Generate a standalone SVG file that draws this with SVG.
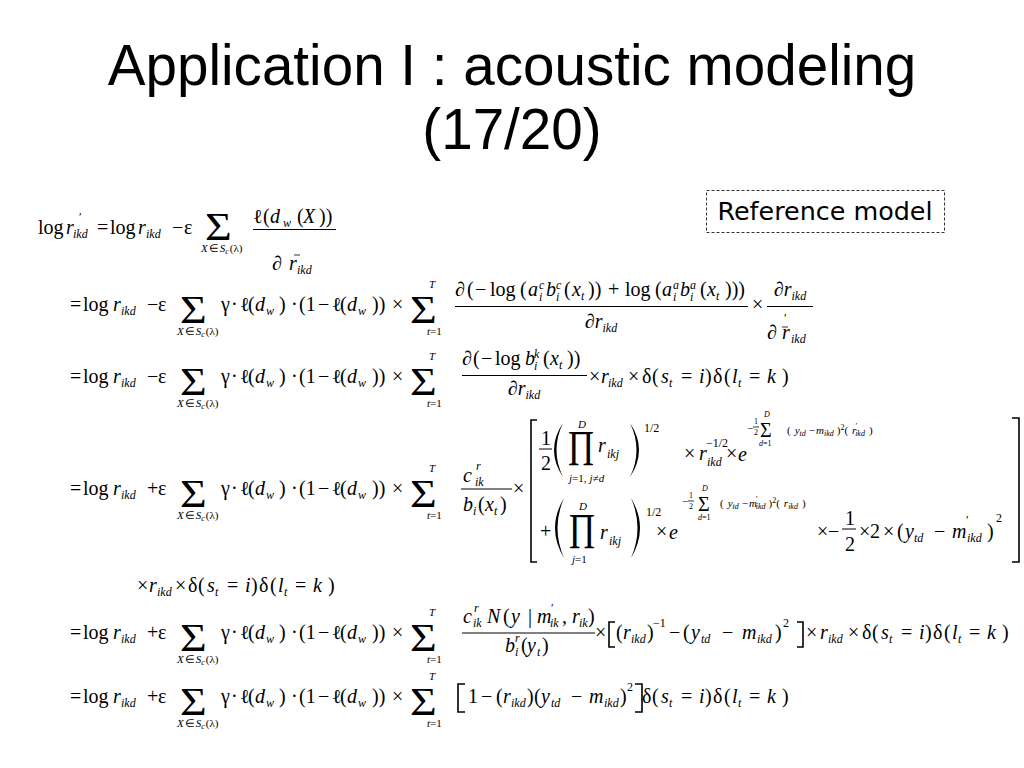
<svg xmlns="http://www.w3.org/2000/svg" width="1024" height="768" viewBox="0 0 1024 768">
<style>
text{font-family:"Liberation Serif","Times New Roman",serif;font-size:20px;fill:#000}
.i{font-style:italic}
.s{font-size:12px}
.l{font-size:11px}
.e{font-size:11px}
.t{font-size:8px}
.g{font-size:41px}
.p{font-size:50px}
.ttl{font-family:"Liberation Sans",Arial,sans-serif;font-size:56.6px}
.ref{font-family:"DejaVu Sans",Verdana,sans-serif;font-size:25.4px}
.fl{stroke:#000;stroke-width:1}
.hl{stroke:#000;stroke-width:0.8}
.br{fill:none;stroke:#000;stroke-width:1.6}
.pf{fill:#000;stroke:none}
</style>
<rect width="1024" height="768" fill="#fff"/>
<g id="title">
<text class="ttl" x="512" y="85" text-anchor="middle">Application I : acoustic modeling</text>
<text class="ttl" x="512" y="149" text-anchor="middle">(17/20)</text>
</g>
<g id="reference-model">
<rect x="706.5" y="190.5" width="238" height="42" fill="none" stroke="#333" stroke-width="1" stroke-dasharray="3,2"/>
<text class="ref" x="825" y="220" text-anchor="middle">Reference model</text>
</g>

<g id="eq1" transform="translate(0,234)">
<text><tspan x="38" y="0">log</tspan><tspan class="i" x="66" y="0">r</tspan><tspan class="s" x="79" y="-13">′</tspan><tspan class="i s" x="73" y="4">ikd</tspan><tspan x="97" y="0">=</tspan><tspan x="110" y="0">log</tspan><tspan class="i" x="138" y="0">r</tspan><tspan class="i s" x="146" y="4">ikd</tspan><tspan x="172" y="0">−</tspan><tspan x="184" y="0">ε</tspan></text>
<text class="g" transform="translate(205,6) scale(1.12,1)">Σ</text>
<text class="l" x="201" y="18"><tspan class="i">X</tspan><tspan dx="1">∈</tspan><tspan class="i" dx="1">S</tspan><tspan class="i t" dy="2">c</tspan><tspan dy="-2" dx="1">(λ)</tspan></text>
<text><tspan x="253" y="-11">ℓ</tspan><tspan x="263" y="-11">(</tspan><tspan class="i" x="270" y="-11">d</tspan><tspan class="i s" x="283" y="-7">w</tspan><tspan x="297" y="-11">(</tspan><tspan class="i" x="303" y="-11">X</tspan><tspan x="319" y="-11">))</tspan></text>
<line class="fl" x1="253" y1="-4.5" x2="336" y2="-4.5"/>
<text><tspan x="272" y="36">∂</tspan><tspan class="i" x="289" y="36">r</tspan><tspan class="i s" x="297" y="40">ikd</tspan></text>
<line class="hl" x1="294" y1="21" x2="300" y2="21"/>
</g>

<g id="eq2" transform="translate(0,311)">
<text><tspan x="70" y="0">=</tspan><tspan x="83" y="0">log</tspan><tspan class="i" x="113" y="0">r</tspan><tspan class="i s" x="121" y="4">ikd</tspan><tspan x="147" y="0">−</tspan><tspan x="158" y="0">ε</tspan><tspan x="221" y="0">γ</tspan><tspan x="231" y="0">·</tspan><tspan x="240" y="0">ℓ</tspan><tspan x="248" y="0">(</tspan><tspan class="i" x="255" y="0">d</tspan><tspan class="i s" x="266" y="4">w</tspan><tspan x="279" y="0">)</tspan><tspan x="291" y="0">·</tspan><tspan x="299" y="0">(1</tspan><tspan x="318" y="0">−</tspan><tspan x="332" y="0">ℓ</tspan><tspan x="340" y="0">(</tspan><tspan class="i" x="347" y="0">d</tspan><tspan class="i s" x="358" y="4">w</tspan><tspan x="372" y="0">))</tspan><tspan x="392" y="0">×</tspan></text>
<text class="g" transform="translate(180,12) scale(1.12,1)">Σ</text>
<text class="l" x="177" y="24"><tspan class="i">X</tspan><tspan dx="1">∈</tspan><tspan class="i" dx="1">S</tspan><tspan class="i t" dy="2">c</tspan><tspan dy="-2" dx="1">(λ)</tspan></text>
<text class="g" transform="translate(410,12) scale(1.12,1)">Σ</text>
<text class="i l" x="429" y="-23">T</text>
<text class="l" x="427" y="24"><tspan class="i">t</tspan>=1</text>
<text><tspan x="455" y="-15">∂</tspan><tspan x="467" y="-15">(</tspan><tspan x="475" y="-15">−</tspan><tspan x="490" y="-15">log</tspan><tspan x="520" y="-15">(</tspan><tspan class="i" x="528" y="-15">a</tspan><tspan class="i s" x="539" y="-22">c</tspan><tspan class="i s" x="539" y="-10">i</tspan><tspan class="i" x="546" y="-15">b</tspan><tspan class="i s" x="556" y="-22">c</tspan><tspan class="i s" x="556" y="-10">i</tspan><tspan x="564" y="-15">(</tspan><tspan class="i" x="572" y="-15">x</tspan><tspan class="i s" x="581" y="-11">t</tspan><tspan x="588" y="-15">))</tspan><tspan x="608" y="-15">+</tspan><tspan x="625" y="-15">log</tspan><tspan x="655" y="-15">(</tspan><tspan class="i" x="662" y="-15">a</tspan><tspan class="i s" x="673" y="-22">a</tspan><tspan class="i s" x="673" y="-10">i</tspan><tspan class="i" x="680" y="-15">b</tspan><tspan class="i s" x="690" y="-22">a</tspan><tspan class="i s" x="690" y="-10">i</tspan><tspan x="700" y="-15">(</tspan><tspan class="i" x="707" y="-15">x</tspan><tspan class="i s" x="716" y="-11">t</tspan><tspan x="725" y="-15">)))</tspan></text>
<line class="fl" x1="455" y1="-4.5" x2="748" y2="-4.5"/>
<text x="601" y="17" text-anchor="middle">∂<tspan class="i">r</tspan><tspan class="i s" dy="4">ikd</tspan></text>
<text x="752" y="0">×</text>
<text x="790" y="-15" text-anchor="middle">∂<tspan class="i">r</tspan><tspan class="i s" dy="4">ikd</tspan></text>
<line class="fl" x1="767" y1="-4.5" x2="813" y2="-4.5"/>
<text><tspan x="767" y="28">∂</tspan><tspan class="i" x="782" y="28">r</tspan><tspan class="i s" x="791" y="32">ikd</tspan><tspan class="s" x="784" y="11">′</tspan></text>
<line class="hl" x1="782" y1="16" x2="788" y2="16"/>
</g>

<g id="eq3" transform="translate(0,383)">
<text><tspan x="70" y="0">=</tspan><tspan x="83" y="0">log</tspan><tspan class="i" x="113" y="0">r</tspan><tspan class="i s" x="121" y="4">ikd</tspan><tspan x="147" y="0">−</tspan><tspan x="158" y="0">ε</tspan><tspan x="221" y="0">γ</tspan><tspan x="231" y="0">·</tspan><tspan x="240" y="0">ℓ</tspan><tspan x="248" y="0">(</tspan><tspan class="i" x="255" y="0">d</tspan><tspan class="i s" x="266" y="4">w</tspan><tspan x="279" y="0">)</tspan><tspan x="291" y="0">·</tspan><tspan x="299" y="0">(1</tspan><tspan x="318" y="0">−</tspan><tspan x="332" y="0">ℓ</tspan><tspan x="340" y="0">(</tspan><tspan class="i" x="347" y="0">d</tspan><tspan class="i s" x="358" y="4">w</tspan><tspan x="372" y="0">))</tspan><tspan x="392" y="0">×</tspan></text>
<text class="g" transform="translate(180,12) scale(1.12,1)">Σ</text>
<text class="l" x="177" y="24"><tspan class="i">X</tspan><tspan dx="1">∈</tspan><tspan class="i" dx="1">S</tspan><tspan class="i t" dy="2">c</tspan><tspan dy="-2" dx="1">(λ)</tspan></text>
<text class="g" transform="translate(410,12) scale(1.12,1)">Σ</text>
<text class="i l" x="429" y="-23">T</text>
<text class="l" x="427" y="24"><tspan class="i">t</tspan>=1</text>
<text><tspan x="462" y="-18">∂</tspan><tspan x="473" y="-18">(</tspan><tspan x="481" y="-18">−</tspan><tspan x="495" y="-18">log</tspan><tspan class="i" x="525" y="-18">b</tspan><tspan class="i s" x="534" y="-25">k</tspan><tspan class="i s" x="534" y="-13">i</tspan><tspan x="543" y="-18">(</tspan><tspan class="i" x="550" y="-18">x</tspan><tspan class="i s" x="559" y="-14">t</tspan><tspan x="567" y="-18">))</tspan></text>
<line class="fl" x1="462" y1="-7.5" x2="587" y2="-7.5"/>
<text x="524" y="12" text-anchor="middle">∂<tspan class="i">r</tspan><tspan class="i s" dy="4">ikd</tspan></text>
<text><tspan x="589" y="0">×</tspan><tspan class="i" x="601" y="0">r</tspan><tspan class="i s" x="608" y="4">ikd</tspan><tspan x="628" y="0">×</tspan></text>
<text><tspan x="642" y="0">δ</tspan><tspan x="652" y="0">(</tspan><tspan class="i" x="661" y="0">s</tspan><tspan class="i s" x="669" y="4">t</tspan><tspan x="681" y="0">=</tspan><tspan class="i" x="699" y="0">i</tspan><tspan x="705" y="0">)</tspan><tspan x="713" y="0">δ</tspan><tspan x="724" y="0">(</tspan><tspan class="i" x="732" y="0">l</tspan><tspan class="i s" x="738" y="4">t</tspan><tspan x="749" y="0">=</tspan><tspan class="i" x="767" y="0">k</tspan><tspan x="782" y="0">)</tspan></text>
</g>

<g id="eq4">
<g transform="translate(0,495)">
<text><tspan x="70" y="0">=</tspan><tspan x="83" y="0">log</tspan><tspan class="i" x="113" y="0">r</tspan><tspan class="i s" x="121" y="4">ikd</tspan><tspan x="147" y="0">+</tspan><tspan x="158" y="0">ε</tspan><tspan x="221" y="0">γ</tspan><tspan x="231" y="0">·</tspan><tspan x="240" y="0">ℓ</tspan><tspan x="248" y="0">(</tspan><tspan class="i" x="255" y="0">d</tspan><tspan class="i s" x="266" y="4">w</tspan><tspan x="279" y="0">)</tspan><tspan x="291" y="0">·</tspan><tspan x="299" y="0">(1</tspan><tspan x="318" y="0">−</tspan><tspan x="332" y="0">ℓ</tspan><tspan x="340" y="0">(</tspan><tspan class="i" x="347" y="0">d</tspan><tspan class="i s" x="358" y="4">w</tspan><tspan x="372" y="0">))</tspan><tspan x="392" y="0">×</tspan></text>
<text class="g" transform="translate(180,12) scale(1.12,1)">Σ</text>
<text class="l" x="177" y="24"><tspan class="i">X</tspan><tspan dx="1">∈</tspan><tspan class="i" dx="1">S</tspan><tspan class="i t" dy="2">c</tspan><tspan dy="-2" dx="1">(λ)</tspan></text>
<text class="g" transform="translate(410,12) scale(1.12,1)">Σ</text>
<text class="i l" x="429" y="-23">T</text>
<text class="l" x="427" y="24"><tspan class="i">t</tspan>=1</text>
<text><tspan class="i" x="463" y="-13">c</tspan><tspan class="i s" x="476" y="-25">r</tspan><tspan class="i s" x="475" y="-9">ik</tspan></text>
<line class="fl" x1="461" y1="-6" x2="512" y2="-6"/>
<text><tspan class="i" x="463" y="16">b</tspan><tspan class="i s" x="473" y="20">i</tspan><tspan x="478" y="16">(</tspan><tspan class="i" x="485" y="16">x</tspan><tspan class="i s" x="494" y="20">t</tspan><tspan x="500" y="16">)</tspan></text>
<text x="513" y="0">×</text>
</g>
<path class="br" d="M537,420H531V562H537"/>
<path class="br" d="M1012,418H1019V562H1012"/>
<text x="541" y="445">1</text>
<line class="fl" x1="539" y1="449" x2="552" y2="449"/>
<text x="541" y="470">2</text>
<path class="pf" d="M563,423Q545,450 563,477Q550,450 563,423Z"/>
<text class="p" transform="translate(568,465) scale(0.72,1)">Π</text>
<text class="i l" x="578" y="428">D</text>
<text class="l" x="569" y="482"><tspan class="i">j</tspan>=1,<tspan class="i" dx="3">j</tspan>≠<tspan class="i">d</tspan></text>
<text><tspan class="i" x="598" y="452">r</tspan><tspan class="i s" x="607" y="458">ikj</tspan></text>
<path class="pf" d="M630,423Q648,450 630,477Q643,450 630,423Z"/>
<text class="s" x="644" y="432">1/2</text>
<text><tspan x="684" y="460">×</tspan><tspan class="i" x="699" y="460">r</tspan><tspan class="i s" x="707" y="466">ikd</tspan><tspan class="s" x="706" y="447">−1/2</tspan><tspan x="726" y="460">×</tspan><tspan class="i" x="738" y="461">e</tspan></text>
<text class="e" x="747" y="432">−</text>
<text class="t" x="754" y="424">1</text>
<line class="hl" x1="753" y1="427" x2="759" y2="427"/>
<text class="t" x="754" y="435">2</text>
<text x="760" y="437">Σ</text>
<text class="i t" x="764" y="417">D</text>
<text class="t" x="759" y="446"><tspan class="i">d</tspan>=1</text>
<text class="e" x="787" y="434">(<tspan class="i" dx="4">y</tspan><tspan class="i t" dy="2">td</tspan><tspan dy="-2" dx="3">−</tspan><tspan class="i" dx="1">m</tspan><tspan class="i t" dy="2">ikd</tspan><tspan dy="-2" dx="3">)</tspan><tspan class="t" dy="-4">2</tspan><tspan dy="4">(</tspan><tspan class="i" dx="4">r</tspan><tspan class="t" dx="-1" dy="-5">′</tspan><tspan class="i t" dx="-2" dy="7">ikd</tspan><tspan dy="-2" dx="4">)</tspan></text>
<text x="540" y="538">+</text>
<path class="pf" d="M564,498Q546,528 564,558Q551,528 564,498Z"/>
<text class="p" transform="translate(569,548) scale(0.72,1)">Π</text>
<text class="i l" x="579" y="510">D</text>
<text class="l" x="572" y="563"><tspan class="i">j</tspan>=1</text>
<text><tspan class="i" x="600" y="539">r</tspan><tspan class="i s" x="609" y="545">ikj</tspan></text>
<path class="pf" d="M631,498Q649,528 631,558Q644,528 631,498Z"/>
<text class="s" x="646" y="516">1/2</text>
<text><tspan x="656" y="538">×</tspan><tspan class="i" x="669" y="539">e</tspan></text>
<text class="e" x="682" y="505">−</text>
<text class="t" x="689" y="498">1</text>
<line class="hl" x1="688" y1="501" x2="694" y2="501"/>
<text class="t" x="689" y="509">2</text>
<text x="698" y="511">Σ</text>
<text class="i t" x="702" y="491">D</text>
<text class="t" x="698" y="520"><tspan class="i">d</tspan>=1</text>
<text class="e" x="720" y="507">(<tspan class="i" dx="4">y</tspan><tspan class="i t" dy="2">td</tspan><tspan dy="-2" dx="3">−</tspan><tspan class="i" dx="1">m</tspan><tspan class="t" dx="-1" dy="-5">′</tspan><tspan class="i t" dx="-2" dy="7">ikd</tspan><tspan dy="-2" dx="3">)</tspan><tspan class="t" dy="-4">2</tspan><tspan dy="4">(</tspan><tspan class="i" dx="4">r</tspan><tspan class="i t" dy="2">ikd</tspan><tspan dy="-2" dx="4">)</tspan></text>
<text><tspan x="817" y="538">×</tspan><tspan x="828" y="538">−</tspan><tspan x="859" y="538">×</tspan><tspan x="870" y="538">2</tspan><tspan x="883" y="538">×</tspan><tspan x="897" y="538">(</tspan><tspan class="i" x="905" y="538">y</tspan><tspan class="i s" x="914" y="542">td</tspan><tspan x="934" y="538">−</tspan><tspan class="i" x="952" y="538">m</tspan><tspan class="s" x="966" y="524">′</tspan><tspan class="i s" x="967" y="542">ikd</tspan><tspan x="987" y="538">)</tspan><tspan class="s" x="996" y="522">2</tspan></text>
<text x="845" y="525">1</text>
<line class="fl" x1="842" y1="529" x2="856" y2="529"/>
<text x="845" y="551">2</text>
</g>

<g id="eq5" transform="translate(0,592)">
<text><tspan x="137" y="0">×</tspan><tspan class="i" x="149" y="0">r</tspan><tspan class="i s" x="157" y="4">ikd</tspan><tspan x="175" y="0">×</tspan></text>
<text><tspan x="188" y="0">δ</tspan><tspan x="198" y="0">(</tspan><tspan class="i" x="207" y="0">s</tspan><tspan class="i s" x="215" y="4">t</tspan><tspan x="227" y="0">=</tspan><tspan class="i" x="245" y="0">i</tspan><tspan x="251" y="0">)</tspan><tspan x="259" y="0">δ</tspan><tspan x="270" y="0">(</tspan><tspan class="i" x="278" y="0">l</tspan><tspan class="i s" x="284" y="4">t</tspan><tspan x="295" y="0">=</tspan><tspan class="i" x="313" y="0">k</tspan><tspan x="328" y="0">)</tspan></text>
</g>

<g id="eq6" transform="translate(0,639)">
<text><tspan x="70" y="0">=</tspan><tspan x="83" y="0">log</tspan><tspan class="i" x="113" y="0">r</tspan><tspan class="i s" x="121" y="4">ikd</tspan><tspan x="147" y="0">+</tspan><tspan x="158" y="0">ε</tspan><tspan x="221" y="0">γ</tspan><tspan x="231" y="0">·</tspan><tspan x="240" y="0">ℓ</tspan><tspan x="248" y="0">(</tspan><tspan class="i" x="255" y="0">d</tspan><tspan class="i s" x="266" y="4">w</tspan><tspan x="279" y="0">)</tspan><tspan x="291" y="0">·</tspan><tspan x="299" y="0">(1</tspan><tspan x="318" y="0">−</tspan><tspan x="332" y="0">ℓ</tspan><tspan x="340" y="0">(</tspan><tspan class="i" x="347" y="0">d</tspan><tspan class="i s" x="358" y="4">w</tspan><tspan x="372" y="0">))</tspan><tspan x="392" y="0">×</tspan></text>
<text class="g" transform="translate(180,12) scale(1.12,1)">Σ</text>
<text class="l" x="177" y="24"><tspan class="i">X</tspan><tspan dx="1">∈</tspan><tspan class="i" dx="1">S</tspan><tspan class="i t" dy="2">c</tspan><tspan dy="-2" dx="1">(λ)</tspan></text>
<text class="g" transform="translate(410,12) scale(1.12,1)">Σ</text>
<text class="i l" x="429" y="-23">T</text>
<text class="l" x="427" y="24"><tspan class="i">t</tspan>=1</text>
<text><tspan class="i" x="463" y="-16">c</tspan><tspan class="i s" x="474" y="-27">r</tspan><tspan class="i s" x="473" y="-12">ik</tspan><tspan class="i" x="487" y="-16">N</tspan><tspan x="503" y="-16">(</tspan><tspan class="i" x="511" y="-16">y</tspan><tspan x="528" y="-16">|</tspan><tspan class="i" x="537" y="-16">m</tspan><tspan class="s" x="551" y="-27">′</tspan><tspan class="i s" x="550" y="-12">ik</tspan><tspan x="562" y="-16">,</tspan><tspan class="i" x="572" y="-16">r</tspan><tspan class="i s" x="579" y="-12">ik</tspan><tspan x="588" y="-16">)</tspan></text>
<line class="fl" x1="462" y1="-6" x2="595" y2="-6"/>
<text><tspan class="i" x="505" y="13">b</tspan><tspan class="i s" x="515" y="3">r</tspan><tspan class="i s" x="515" y="17">i</tspan><tspan x="521" y="13">(</tspan><tspan class="i" x="527" y="13">y</tspan><tspan class="i s" x="537" y="17">t</tspan><tspan x="542" y="13">)</tspan></text>
<text x="595" y="0">×</text>
<path class="br" d="M615,-17H609V8H615"/>
<text><tspan x="616" y="0">(</tspan><tspan class="i" x="623" y="0">r</tspan><tspan class="i s" x="631" y="4">ikd</tspan><tspan x="647" y="0">)</tspan><tspan class="s" x="653" y="-12">−1</tspan><tspan x="669" y="0">−</tspan><tspan x="683" y="0">(</tspan><tspan class="i" x="691" y="0">y</tspan><tspan class="i s" x="701" y="4">td</tspan><tspan x="722" y="0">−</tspan><tspan class="i" x="742" y="0">m</tspan><tspan class="i s" x="757" y="4">ikd</tspan><tspan x="775" y="0">)</tspan><tspan class="s" x="783" y="-12">2</tspan></text>
<path class="br" d="M797,-17H803V8H797"/>
<text><tspan x="806" y="0">×</tspan><tspan class="i" x="820" y="0">r</tspan><tspan class="i s" x="828" y="4">ikd</tspan><tspan x="848" y="0">×</tspan></text>
<text><tspan x="862" y="0">δ</tspan><tspan x="872" y="0">(</tspan><tspan class="i" x="881" y="0">s</tspan><tspan class="i s" x="889" y="4">t</tspan><tspan x="901" y="0">=</tspan><tspan class="i" x="919" y="0">i</tspan><tspan x="925" y="0">)</tspan><tspan x="933" y="0">δ</tspan><tspan x="944" y="0">(</tspan><tspan class="i" x="952" y="0">l</tspan><tspan class="i s" x="958" y="4">t</tspan><tspan x="969" y="0">=</tspan><tspan class="i" x="987" y="0">k</tspan><tspan x="1002" y="0">)</tspan></text>
</g>

<g id="eq7" transform="translate(0,703)">
<text><tspan x="70" y="0">=</tspan><tspan x="83" y="0">log</tspan><tspan class="i" x="113" y="0">r</tspan><tspan class="i s" x="121" y="4">ikd</tspan><tspan x="147" y="0">+</tspan><tspan x="158" y="0">ε</tspan><tspan x="221" y="0">γ</tspan><tspan x="231" y="0">·</tspan><tspan x="240" y="0">ℓ</tspan><tspan x="248" y="0">(</tspan><tspan class="i" x="255" y="0">d</tspan><tspan class="i s" x="266" y="4">w</tspan><tspan x="279" y="0">)</tspan><tspan x="291" y="0">·</tspan><tspan x="299" y="0">(1</tspan><tspan x="318" y="0">−</tspan><tspan x="332" y="0">ℓ</tspan><tspan x="340" y="0">(</tspan><tspan class="i" x="347" y="0">d</tspan><tspan class="i s" x="358" y="4">w</tspan><tspan x="372" y="0">))</tspan><tspan x="392" y="0">×</tspan></text>
<text class="g" transform="translate(180,12) scale(1.12,1)">Σ</text>
<text class="l" x="177" y="24"><tspan class="i">X</tspan><tspan dx="1">∈</tspan><tspan class="i" dx="1">S</tspan><tspan class="i t" dy="2">c</tspan><tspan dy="-2" dx="1">(λ)</tspan></text>
<text class="g" transform="translate(410,12) scale(1.12,1)">Σ</text>
<text class="i l" x="429" y="-23">T</text>
<text class="l" x="427" y="24"><tspan class="i">t</tspan>=1</text>
<path class="br" d="M465,-19H458V9H465"/>
<text><tspan x="468" y="0">1</tspan><tspan x="481" y="0">−</tspan><tspan x="496" y="0">(</tspan><tspan class="i" x="503" y="0">r</tspan><tspan class="i s" x="511" y="4">ikd</tspan><tspan x="527" y="0">)</tspan><tspan x="534" y="0">(</tspan><tspan class="i" x="541" y="0">y</tspan><tspan class="i s" x="551" y="4">td</tspan><tspan x="571" y="0">−</tspan><tspan class="i" x="589" y="0">m</tspan><tspan class="i s" x="604" y="4">ikd</tspan><tspan x="620" y="0">)</tspan><tspan class="s" x="627" y="-12">2</tspan></text>
<path class="br" d="M635,-19H642V9H635"/>
<text><tspan x="642" y="0">δ</tspan><tspan x="652" y="0">(</tspan><tspan class="i" x="661" y="0">s</tspan><tspan class="i s" x="669" y="4">t</tspan><tspan x="681" y="0">=</tspan><tspan class="i" x="699" y="0">i</tspan><tspan x="705" y="0">)</tspan><tspan x="713" y="0">δ</tspan><tspan x="724" y="0">(</tspan><tspan class="i" x="732" y="0">l</tspan><tspan class="i s" x="738" y="4">t</tspan><tspan x="749" y="0">=</tspan><tspan class="i" x="767" y="0">k</tspan><tspan x="782" y="0">)</tspan></text>
</g>
</svg>
